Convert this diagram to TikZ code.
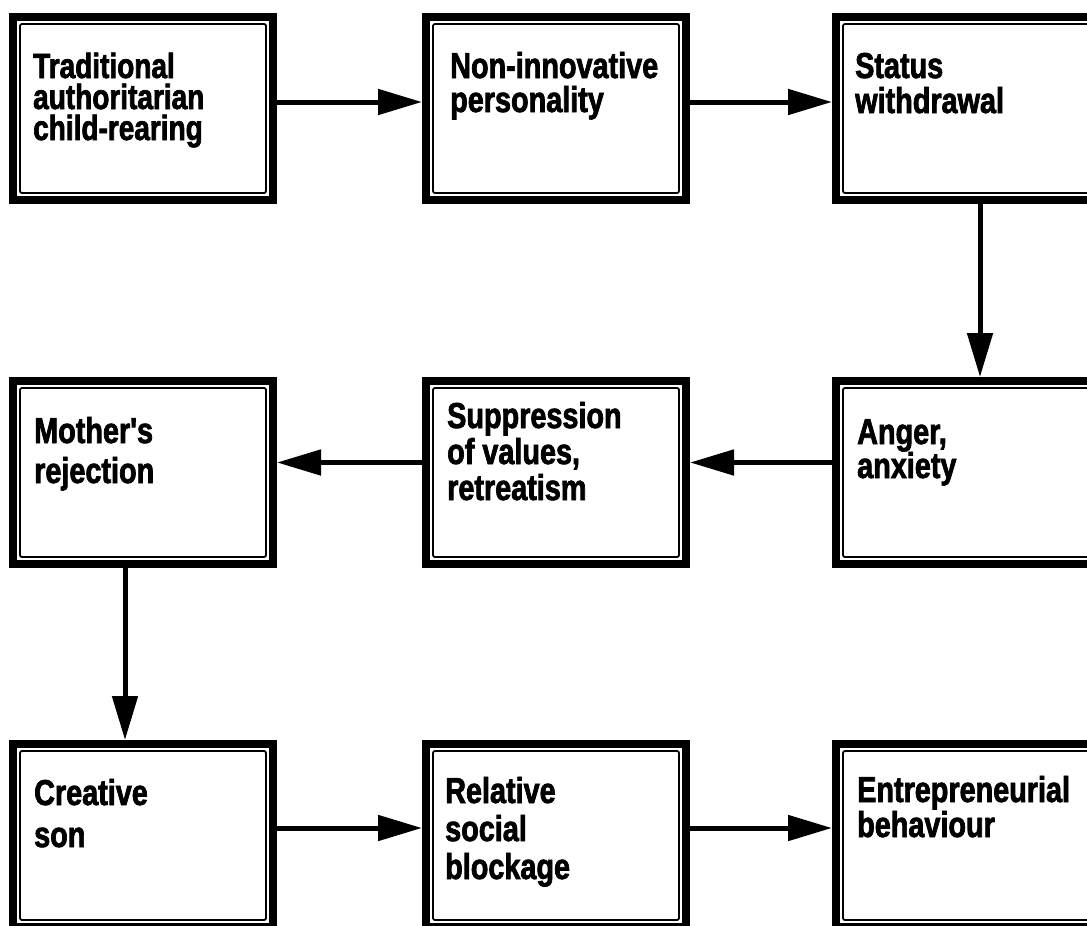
\documentclass[tikz,border=0pt]{standalone}
\usepackage{fontspec}
\setmainfont{Liberation Sans}
\newfontfamily\boxfont{Liberation Sans Bold}[FakeStretch=0.80,FakeBold=2]
\usetikzlibrary{arrows.meta,calc}
\tikzset{
  frame/.style={draw, line width=8pt, inner sep=0pt, minimum width=260pt, minimum height=183pt},
  innerframe/.style={line width=1.8pt, rounded corners=2pt},
  label/.style={anchor=base west, inner sep=0pt, font=\boxfont\fontsize{36pt}{35pt}\selectfont},
  flow/.style={line width=5pt, -{Triangle[length=44pt,width=25pt]}}
}
\newcommand{\lbl}[2]{\parbox[t]{245pt}{\baselineskip=#1pt\relax #2}}
\begin{document}
\begin{tikzpicture}[x=1pt,y=-1pt]
\useasboundingbox (0,0) rectangle (1087,926);
\clip (0,0) rectangle (1087,926);
% frames (centres)
\node[frame] (b1) at (143,108.5) {};
\node[frame] (b2) at (556,108.5) {};
\node[frame] (b3) at (966,108.5) {};
\node[frame] (b4) at (143,472.5) {};
\node[frame] (b5) at (556,472.5) {};
\node[frame] (b6) at (966,472.5) {};
\node[frame] (b7) at (143,835.5) {};
\node[frame] (b8) at (556,835.5) {};
\node[frame] (b9) at (966,835.5) {};
\foreach \b in {b1,b2,b3,b4,b5,b6,b7,b8,b9}{
  \draw[innerframe] ([xshift=11pt,yshift=-11pt]\b.north west) rectangle ([xshift=-11pt,yshift=11pt]\b.south east);
}
% texts
\node[label, font=\boxfont\fontsize{35pt}{31pt}\selectfont] (t1) at ([xshift=24pt,yshift=-65pt]b1.north west) {\lbl{31}{Traditional\\authoritarian\\child-rearing}};
\node[label] (t2) at ([xshift=28pt,yshift=-65pt]b2.north west) {\lbl{34}{Non-innovative\\personality}};
\node[label] (t3) at ([xshift=23pt,yshift=-65pt]b3.north west) {\lbl{35}{Status\\withdrawal}};
\node[label] (t4) at ([xshift=25pt,yshift=-66pt]b4.north west) {\lbl{40}{Mother's\\rejection}};
\node[label] (t5) at ([xshift=25pt,yshift=-51pt]b5.north west) {\lbl{36}{Suppression\\of values,\\retreatism}};
\node[label] (t6) at ([xshift=25pt,yshift=-67pt]b6.north west) {\lbl{34}{Anger,\\anxiety}};
\node[label] (t7) at ([xshift=25pt,yshift=-65pt]b7.north west) {\lbl{42}{Creative\\son}};
\node[label] (t8) at ([xshift=23pt,yshift=-63pt]b8.north west) {\lbl{38}{Relative\\social\\blockage}};
\node[label] (t9) at ([xshift=25pt,yshift=-62pt]b9.north west) {\lbl{35}{Entrepreneurial\\behaviour}};
% connectors
\draw[flow] ([yshift=6.5pt]b1.east) -- ([yshift=6.5pt]b2.west);
\draw[flow] ([yshift=6.5pt]b2.east) -- ([yshift=6.5pt]b3.west);
\draw[flow] ([xshift=14pt]b3.south) -- ([xshift=14pt]b6.north);
\draw[flow] ([yshift=10pt]b6.west) -- ([yshift=10pt]b5.east);
\draw[flow] ([yshift=10pt]b5.west) -- ([yshift=10pt]b4.east);
\draw[flow] ([xshift=-18pt]b4.south) -- ([xshift=-18pt]b7.north);
\draw[flow] ([yshift=7.5pt]b7.east) -- ([yshift=7.5pt]b8.west);
\draw[flow] ([yshift=7.5pt]b8.east) -- ([yshift=7.5pt]b9.west);
\end{tikzpicture}
\end{document}
